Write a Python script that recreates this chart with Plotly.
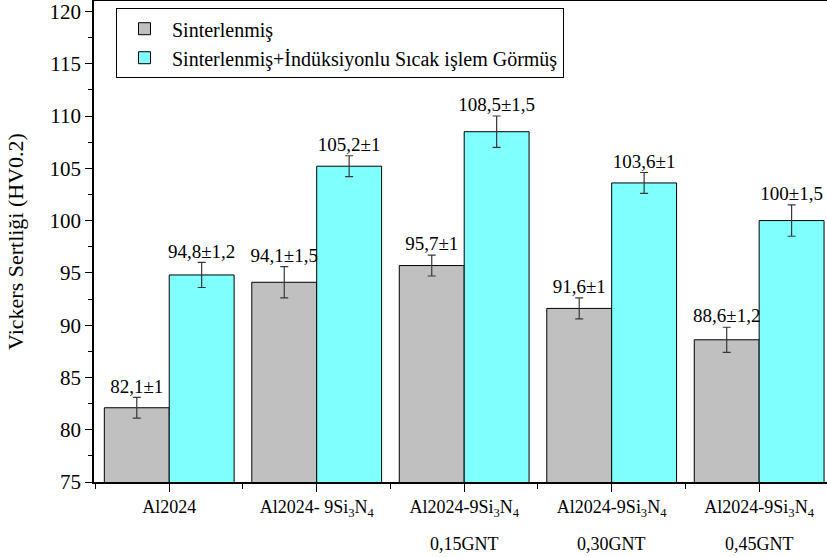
import plotly.graph_objects as go

# data
categories = ["Al2024", "Al2024- 9Si<sub>3</sub>N<sub>4</sub>", "Al2024-9Si<sub>3</sub>N<sub>4</sub>",
              "Al2024-9Si<sub>3</sub>N<sub>4</sub>", "Al2024-9Si<sub>3</sub>N<sub>4</sub>"]
sub_labels = ["", "", "0,15GNT", "0,30GNT", "0,45GNT"]
series_names = ["Sinterlenmiş", "Sinterlenmiş+İndüksiyonlu Sıcak işlem Görmüş"]
sintered = [82.1, 94.1, 95.7, 91.6, 88.6]
sintered_err = [1, 1.5, 1, 1, 1.2]
treated = [94.8, 105.2, 108.5, 103.6, 100.0]
treated_err = [1.2, 1, 1.5, 1, 1.5]

FONT = "Liberation Serif"
BAR_W = 0.44
colors = ["#C0C0C0", "#80FFFF"]


def fmt(v):
    return f"{v:g}".replace(".", ",")


xs = list(range(len(categories)))
fig = go.Figure()

series = [(sintered, sintered_err), (treated, treated_err)]
for k, (vals, errs) in enumerate(series):
    offset = (k - 0.5) * BAR_W
    fig.add_trace(go.Bar(
        x=xs, y=vals, name=series_names[k],
        width=BAR_W, offset=(k - 1) * BAR_W,
        marker=dict(color=colors[k], line=dict(color="black", width=1)),
        error_y=dict(type="data", array=errs, color="#383838", thickness=1.2, width=4),
    ))
    # value labels sit on top of the error bars
    fig.add_trace(go.Scatter(
        x=[x + offset for x in xs],
        y=[v + e for v, e in zip(vals, errs)],
        mode="text",
        text=[f"{fmt(v)}±{fmt(e)}" for v, e in zip(vals, errs)],
        textposition="top center",
        textfont=dict(family=FONT, size=19, color="black"),
        showlegend=False, hoverinfo="skip",
    ))

# second line of the category labels
for x, s in zip(xs, sub_labels):
    if s:
        fig.add_annotation(x=x, y=0, xref="x", yref="paper", text=s, showarrow=False,
                           yanchor="top", yshift=-50,
                           font=dict(family=FONT, size=18, color="black"))

fig.update_layout(
    width=827, height=557,
    margin=dict(l=94, r=0, t=1, b=75),
    plot_bgcolor="white", paper_bgcolor="white",
    font=dict(family=FONT, size=18, color="black"),
    barmode="overlay",
    legend=dict(x=0.03, y=0.985, xanchor="left", yanchor="top",
                bordercolor="black", borderwidth=1, bgcolor="white",
                itemwidth=45, font=dict(family=FONT, size=20), tracegroupgap=0),
)
fig.update_xaxes(
    range=[-0.51, 4.46], tickvals=xs, ticktext=categories,
    showline=True, linecolor="black", linewidth=1.5, mirror=True,
    ticks="outside", ticklen=8, tickcolor="black",
    minor=dict(dtick=0.5, tick0=0, ticks="outside", ticklen=5, tickcolor="black"),
    showgrid=False, zeroline=False, automargin=False,
    tickfont=dict(family=FONT, size=18),
)
fig.update_yaxes(
    range=[75, 121], tick0=75, dtick=5,
    showline=True, linecolor="black", linewidth=1.5,
    ticks="outside", ticklen=7, tickcolor="black",
    minor=dict(dtick=2.5, ticks="outside", ticklen=4, tickcolor="black"),
    showgrid=False, zeroline=False, automargin=False,
    ticklabeloverflow="allow",
    tickfont=dict(family=FONT, size=21),
    title=dict(text="Vickers Sertliği (HV0.2)", font=dict(family=FONT, size=22), standoff=20),
)

fig.write_html("out.html", config={"displayModeBar": False},
               post_script="document.body.style.margin='0';")
